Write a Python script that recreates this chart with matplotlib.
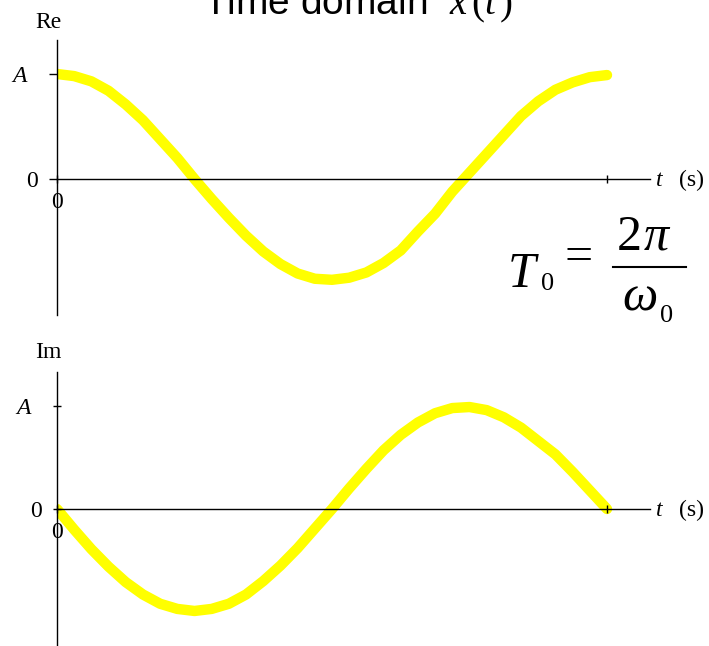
import numpy as np
import matplotlib.pyplot as plt
from matplotlib.lines import Line2D
from matplotlib.transforms import ScaledTranslation

plt.rcParams['mathtext.fontset'] = 'custom'
plt.rcParams['mathtext.rm'] = 'Liberation Serif'
plt.rcParams['mathtext.it'] = 'Liberation Serif:italic'

# one period sampled every T0/32, amplitude in units of A
t_samples = np.arange(33) / 32
re_vals = [1.00, 0.98, 0.93, 0.84, 0.71, 0.56, 0.38, 0.20, 0.00, -0.19, -0.37,
           -0.54, -0.69, -0.81, -0.90, -0.95, -0.96, -0.94, -0.89, -0.80, -0.68,
           -0.50, -0.33, -0.12, 0.06, 0.24, 0.42, 0.60, 0.74, 0.85, 0.92, 0.97, 0.99]
im_vals = [0.00, -0.20, -0.39, -0.56, -0.71, -0.83, -0.92, -0.97, -0.99, -0.97,
           -0.92, -0.83, -0.70, -0.55, -0.38, -0.19, 0.00, 0.20, 0.39, 0.57, 0.72,
           0.84, 0.93, 0.98, 0.99, 0.96, 0.89, 0.79, 0.66, 0.53, 0.36, 0.18, 0.00]

ytick_vals = [0, 1]
ytick_labels = ['0', '$A$']
xtick_vals = [0, 1]
xtick_labels = ['0', '']

W, H = 709, 646
fig = plt.figure(figsize=(W / 100, H / 100), dpi=100)


def px(x, y):
    return x / W, 1 - y / H


serif = 'Liberation Serif'


def panel(rect, ylim, t, vals, label, label_y, ytick_dir):
    ax = fig.add_axes(rect)
    ax.set_xlim(0, 593 / 550)
    ax.set_ylim(*ylim)
    ax.plot(t, vals, color='#ffff00', lw=7.5, solid_capstyle='round',
            solid_joinstyle='round', zorder=1)
    for s in ['top', 'right']:
        ax.spines[s].set_visible(False)
    ax.spines['bottom'].set_position(('data', 0))
    ax.spines['left'].set_linewidth(1.0)
    ax.spines['bottom'].set_linewidth(1.0)
    ax.set_yticks(ytick_vals)
    ax.set_yticklabels(ytick_labels, family=serif, fontsize=17)
    ax.set_xticks(xtick_vals)
    ax.set_xticklabels(xtick_labels, family=serif, fontsize=17)
    ax.tick_params(axis='y', direction=ytick_dir, length=6, width=1.0, pad=8)
    ax.tick_params(axis='x', direction='inout', length=6, width=1.0, pad=6)
    # the amplitude label sits a bit further out than the zero label
    a_lbl = ax.get_yticklabels()[1]
    a_lbl.set_transform(a_lbl.get_transform()
                        + ScaledTranslation(-0.09, 0, fig.dpi_scale_trans))
    ax.patch.set_visible(False)
    fig.text(*px(48, label_y), label, family=serif, fontsize=17,
             ha='center', va='center')
    # axis name at the right end of the time axis
    fig.text(*px(655, label_y + 164), '$t$', family=serif, fontsize=17,
             ha='left', va='baseline')
    fig.text(*px(679, label_y + 164), '(s)', family=serif, fontsize=17,
             ha='left', va='baseline')
    return ax


ax1 = panel([57 / W, 1 - 315 / H, 593 / W, 275 / H], (-136 / 105, 139 / 105),
            t_samples, re_vals, 'Re', 22, 'out')
ax2 = panel([57 / W, 0, 593 / W, 274 / H], (-137 / 103, 137 / 103),
            t_samples, im_vals, 'Im', 352, 'inout')

# title
fig.text(*px(358, 14), 'Time domain  $x\\,(t\\,)$', family='Liberation Sans',
         fontsize=28, ha='center', va='baseline')

# period formula
fig.text(*px(507, 287), '$T$', family=serif, fontsize=36, ha='left', va='baseline')
fig.text(*px(541, 290), '0', family=serif, fontsize=19, ha='left', va='baseline')
fig.text(*px(579, 258), '=', family=serif, fontsize=36, ha='center', va='center')
fig.text(*px(617, 250), '2', family=serif, fontsize=36, ha='left', va='baseline')
fig.text(*px(643, 250), '$\\pi$', family=serif, fontsize=36, ha='left', va='baseline')
fig.add_artist(Line2D([613 / W, 686 / W], [1 - 267 / H, 1 - 267 / H],
                      color='black', lw=1.5))
fig.text(*px(622, 310), '$\\omega$', family=serif, fontsize=36, ha='left', va='baseline')
fig.text(*px(660, 322), '0', family=serif, fontsize=19, ha='left', va='baseline')

fig.savefig('out.png', dpi=100)
